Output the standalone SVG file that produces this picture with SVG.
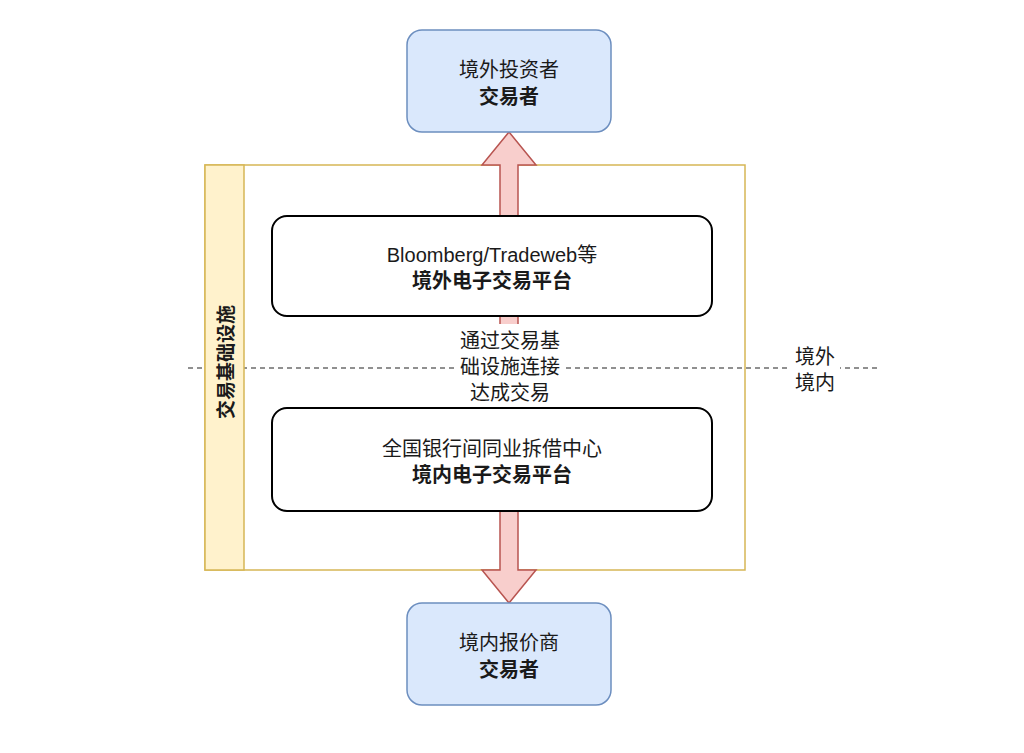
<svg xmlns="http://www.w3.org/2000/svg" width="1024" height="753" viewBox="0 0 1024 753">
<style>
.t{font-family:"Liberation Sans","Noto Sans CJK SC",sans-serif;font-size:20px;fill:#1a1a1a;text-anchor:middle}
.b{font-weight:bold}
.actor{fill:#dae8fc;stroke:#6c8ebf;stroke-width:1.5}
.plat{fill:#ffffff;stroke:#000000;stroke-width:2}
</style>
<rect width="1024" height="753" fill="#ffffff"/>
<g id="container">
<rect x="205" y="165" width="540" height="405" fill="#ffffff" stroke="#d6b656" stroke-width="1.5"/>
</g>
<g id="border-line">
<line x1="188" y1="368" x2="880" y2="368" stroke="#222222" stroke-width="1.2" stroke-dasharray="5,4"/>
</g>
<g id="container-header">
<rect x="205" y="165" width="39" height="405" fill="#fff2cc" stroke="#d6b656" stroke-width="1.5"/>
<text class="t b" transform="translate(233,362) rotate(-90)" style="font-size:19px">交易基础设施</text>
</g>
<g id="connectors">
<path d="M509,132 L536,165 L518,165 L518,570 L536,570 L509,603 L482,570 L500,570 L500,165 L482,165 Z" fill="#f8cecc" stroke="#b85450" stroke-width="1.5"/>
<rect x="454" y="324" width="112" height="84" fill="#ffffff"/>
<text class="t" x="510" y="348">通过交易基</text>
<text class="t" x="510" y="374">础设施连接</text>
<text class="t" x="510" y="400">达成交易</text>
<rect x="790" y="342" width="50" height="52" fill="#ffffff"/>
<text class="t" x="815" y="364">境外</text>
<text class="t" x="815" y="390">境内</text>
</g>
<g id="top-actor">
<rect class="actor" x="407" y="30" width="204" height="102" rx="15"/>
<text class="t" x="509" y="77">境外投资者</text>
<text class="t b" x="509" y="104">交易者</text>
</g>
<g id="offshore-platform">
<rect class="plat" x="272" y="216" width="440" height="100" rx="15"/>
<text class="t" x="492" y="262">Bloomberg/Tradeweb等</text>
<text class="t b" x="492" y="288">境外电子交易平台</text>
</g>
<g id="onshore-platform">
<rect class="plat" x="272" y="408" width="440" height="103" rx="15"/>
<text class="t" x="492" y="456">全国银行间同业拆借中心</text>
<text class="t b" x="492" y="482">境内电子交易平台</text>
</g>
<g id="bottom-actor">
<rect class="actor" x="407" y="603" width="204" height="102" rx="15"/>
<text class="t" x="509" y="650">境内报价商</text>
<text class="t b" x="509" y="677">交易者</text>
</g>
</svg>
